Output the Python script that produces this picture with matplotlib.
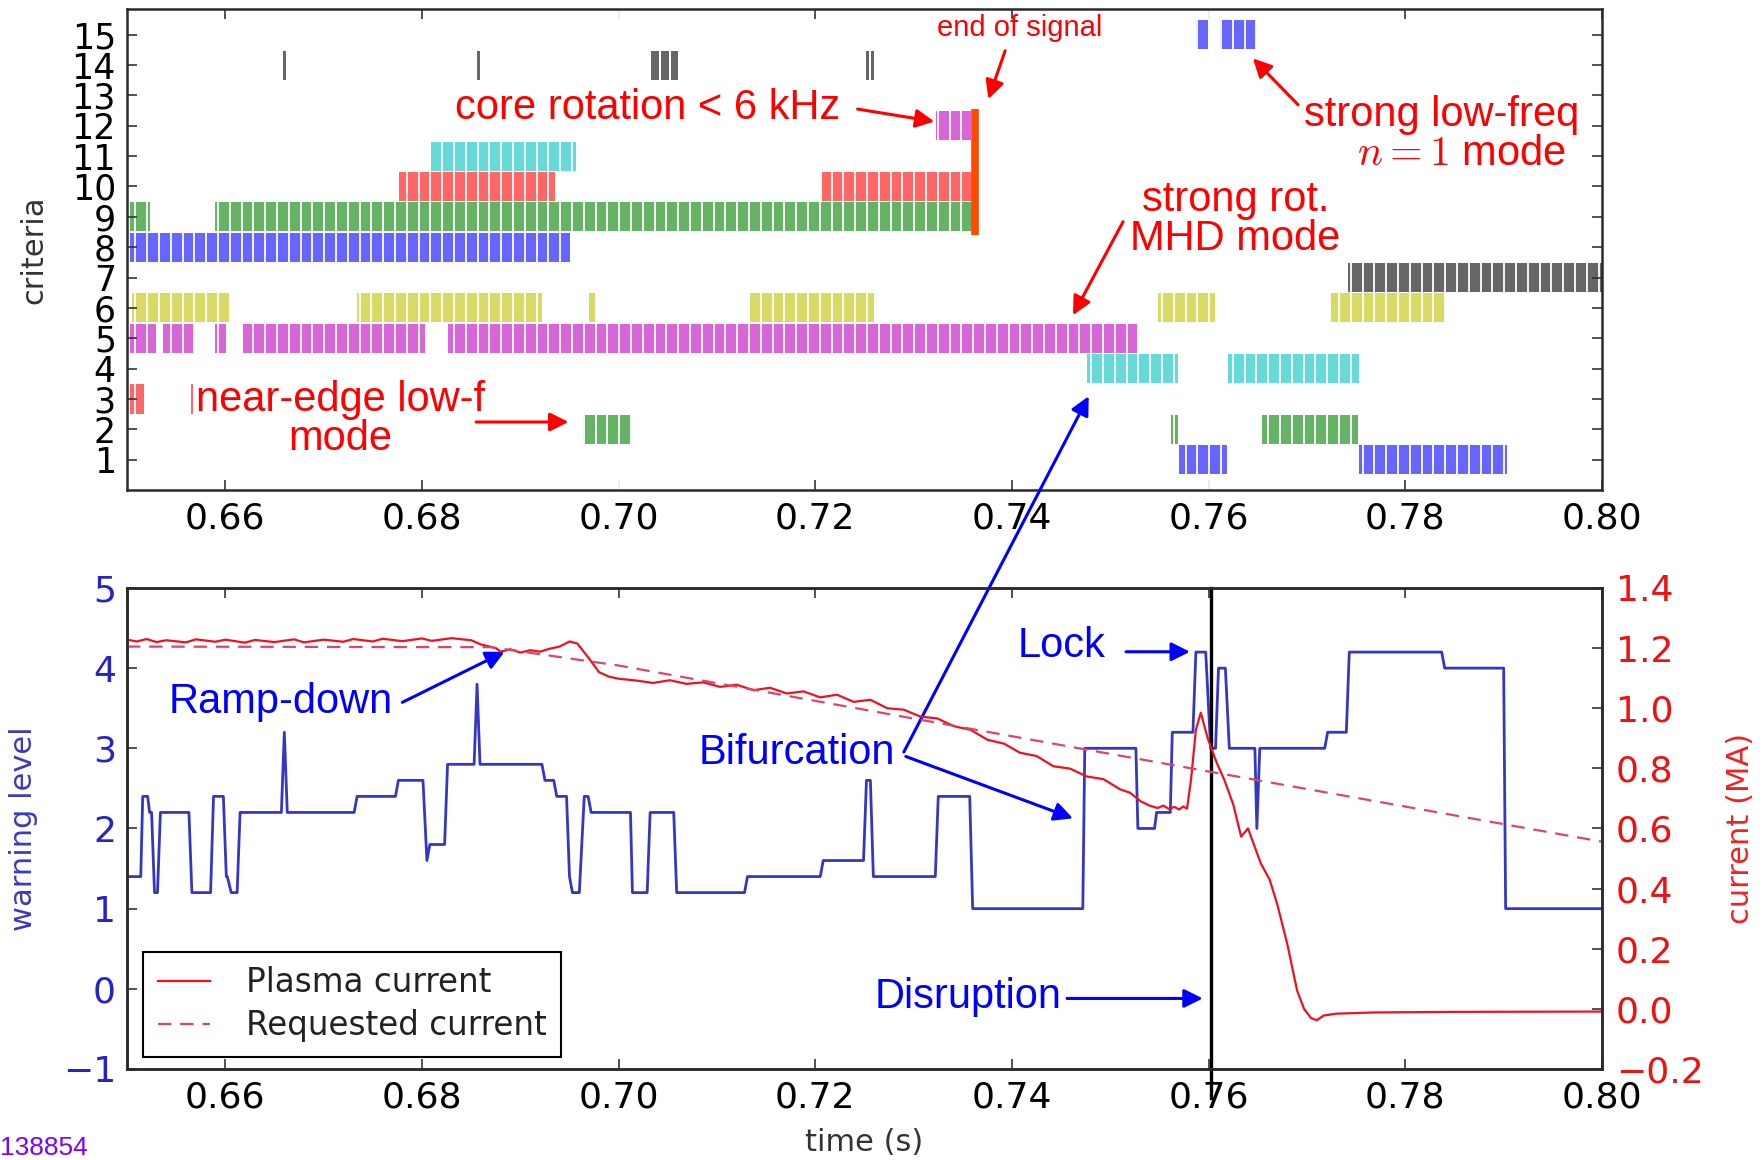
import matplotlib
matplotlib.use("Agg")
import matplotlib.pyplot as plt
from matplotlib.ticker import MultipleLocator

plt.rcParams["font.family"] = ["DejaVu Sans"]

# --- top panel: active criteria, (start, end) in s ---
crit1 = [(0.7570, 0.7619), (0.7753, 0.7903)]
crit2 = [(0.6964, 0.7014), (0.7562, 0.7569), (0.7654, 0.7752)]
crit3 = [(0.6503, 0.6517), (0.6565, 0.6567)]
crit4 = [(0.7476, 0.7569), (0.7620, 0.7753)]
crit5 = [(0.6503, 0.6529), (0.6537, 0.6568), (0.6589, 0.6601),
         (0.6618, 0.6803), (0.6826, 0.7527)]
crit6 = [(0.6505, 0.6606), (0.6734, 0.6922), (0.6970, 0.6976),
         (0.7133, 0.7260), (0.7548, 0.7606), (0.7724, 0.7840)]
crit7 = [(0.7742, 0.8000)]
crit8 = [(0.6503, 0.6951)]
crit9 = [(0.6503, 0.6523), (0.6589, 0.7360)]
crit10 = [(0.6777, 0.6935), (0.7207, 0.7359)]
crit11 = [(0.6809, 0.6957)]
crit12 = [(0.7323, 0.7358)]
crit13 = []
crit14 = [(0.6659, 0.6662), (0.6856, 0.6859), (0.7033, 0.7041), (0.7043, 0.7051),
          (0.7053, 0.7060), (0.7252, 0.7255), (0.7257, 0.7260)]
crit15 = [(0.7587, 0.7599), (0.7612, 0.7648)]
criteria = [crit1, crit2, crit3, crit4, crit5, crit6, crit7, crit8,
            crit9, crit10, crit11, crit12, crit13, crit14, crit15]
# classic b, g, r, c, m, y, k at alpha 0.6 on white
row_colors = ["#6666ff", "#66b366", "#ff6666", "#66d9d9", "#d966d9", "#d9d966", "#666666"]
signal_end = 0.7362

# --- bottom panel ---
wl_t = [0.6500, 0.6514, 0.6516, 0.6521, 0.6523, 0.6525, 0.6528, 0.6531, 0.6534, 0.6563,
        0.6566, 0.6585, 0.6588, 0.6598, 0.6601, 0.6602, 0.6606, 0.6612, 0.6615, 0.6657,
        0.6660, 0.6663, 0.6731, 0.6734, 0.6773, 0.6776, 0.6801, 0.6805, 0.6808, 0.6823,
        0.6826, 0.6853, 0.6856, 0.6859, 0.6922, 0.6925, 0.6934, 0.6937, 0.6947, 0.6950,
        0.6953, 0.6960, 0.6965, 0.6969, 0.6972, 0.7012, 0.7014, 0.7029, 0.7032, 0.7056,
        0.7059, 0.7128, 0.7131, 0.7205, 0.7208, 0.7249, 0.7252, 0.7256, 0.7259, 0.7322,
        0.7325, 0.7357, 0.7360, 0.7472, 0.7474, 0.7526, 0.7528, 0.7545, 0.7547, 0.7561,
        0.7563, 0.7584, 0.7587, 0.7597, 0.7602, 0.7607, 0.7610, 0.7617, 0.7621, 0.7647,
        0.7649, 0.7652, 0.7718, 0.7721, 0.7740, 0.7743, 0.7837, 0.7840, 0.7900, 0.7902,
        0.8000]
wl_v = [1.4, 1.4, 2.4, 2.4, 2.2, 2.2, 1.2, 1.2, 2.2, 2.2,
        1.2, 1.2, 2.4, 2.4, 1.4, 1.4, 1.2, 1.2, 2.2, 2.2,
        3.2, 2.2, 2.2, 2.4, 2.4, 2.6, 2.6, 1.6, 1.8, 1.8,
        2.8, 2.8, 3.8, 2.8, 2.8, 2.6, 2.6, 2.4, 2.4, 1.4,
        1.2, 1.2, 2.4, 2.4, 2.2, 2.2, 1.2, 1.2, 2.2, 2.2,
        1.2, 1.2, 1.4, 1.4, 1.6, 1.6, 2.6, 2.6, 1.4, 1.4,
        2.4, 2.4, 1.0, 1.0, 3.0, 3.0, 2.0, 2.0, 2.2, 2.2,
        3.2, 3.2, 4.2, 4.2, 3.0, 3.0, 4.0, 4.0, 3.0, 3.0,
        2.0, 3.0, 3.0, 3.2, 3.2, 4.2, 4.2, 4.0, 4.0, 1.0,
        1.0]

ip_t = [0.650, 0.651, 0.652, 0.653, 0.654, 0.656, 0.657, 0.659, 0.660, 0.662,
        0.663, 0.665, 0.667, 0.668, 0.670, 0.672, 0.673, 0.675, 0.676, 0.678,
        0.680, 0.681, 0.683, 0.685, 0.686, 0.6875, 0.688, 0.689, 0.690, 0.691,
        0.692, 0.693, 0.694, 0.695, 0.6958, 0.697, 0.698, 0.699, 0.700, 0.7018,
        0.7035, 0.7052, 0.7069, 0.7086, 0.7103, 0.7120, 0.7137, 0.7154, 0.7171, 0.7188,
        0.7205, 0.7222, 0.7239, 0.7256, 0.7273, 0.7290, 0.7307, 0.7324, 0.7341, 0.7358,
        0.7375, 0.7392, 0.7408, 0.7425, 0.7442, 0.7459, 0.7476, 0.7493, 0.7510, 0.7520,
        0.7531, 0.7540, 0.7548, 0.7554, 0.7560, 0.7565, 0.7570, 0.7574, 0.7578, 0.7582,
        0.7587, 0.7592, 0.7599, 0.7608, 0.7616, 0.7625, 0.7633, 0.7640, 0.7653, 0.7662,
        0.7670, 0.7680, 0.7690, 0.7697, 0.7704, 0.7710, 0.7717, 0.7730, 0.7768, 0.7850,
        0.8000]
ip_v = [1.228, 1.222, 1.230, 1.220, 1.226, 1.219, 1.229, 1.221, 1.228, 1.218,
        1.227, 1.220, 1.229, 1.219, 1.228, 1.221, 1.230, 1.222, 1.231, 1.223,
        1.232, 1.224, 1.233, 1.226, 1.212, 1.200, 1.188, 1.196, 1.185, 1.193,
        1.188, 1.198, 1.205, 1.222, 1.215, 1.165, 1.120, 1.105, 1.098, 1.092,
        1.084, 1.093, 1.081, 1.086, 1.071, 1.078, 1.060, 1.068, 1.049, 1.056,
        1.036, 1.045, 1.021, 1.028, 1.000, 0.995, 0.972, 0.966, 0.940, 0.928,
        0.895, 0.882, 0.852, 0.841, 0.807, 0.799, 0.773, 0.764, 0.730, 0.719,
        0.690, 0.676, 0.668, 0.676, 0.664, 0.672, 0.663, 0.673, 0.666, 0.761,
        0.928, 0.985, 0.900, 0.820, 0.761, 0.680, 0.573, 0.600, 0.484, 0.430,
        0.345, 0.215, 0.060, 0.000, -0.030, -0.038, -0.022, -0.016, -0.012, -0.010,
        -0.009]

req_t = [0.650, 0.687, 0.700, 0.750, 0.800]
req_v = [1.205, 1.203, 1.142, 0.848, 0.556]

disruption_t = 0.7602
time_ticks = [0.66, 0.68, 0.70, 0.72, 0.74, 0.76, 0.78, 0.80]

ANNOT_FONT = "Liberation Sans"
RED = "#ff0000"
BLUE = "#0000ff"


def style_axes(ax):
    for sp in ax.spines.values():
        sp.set_linewidth(1.8)
        sp.set_color("#2a2a2a")
        sp.set_zorder(5)
    ax.tick_params(direction="in", length=7, width=1.2, labelsize=26, pad=8,
                   top=True, color="#333333")


def note(ax, x, y, s, color, size=30, **kw):
    ax.text(x, y, s, color=color, fontsize=size, family=ANNOT_FONT,
            ha="center", va="center", zorder=6, **kw)


def arrow(ax, start, end, color, **kw):
    ax.annotate("", xy=end, xytext=start,
                arrowprops=dict(arrowstyle="-|>", color=color, lw=2.2,
                                mutation_scale=28, shrinkA=0, shrinkB=0),
                annotation_clip=False, zorder=6, **kw)


fig = plt.figure(figsize=(17.65, 11.6), dpi=100)
ax_top = fig.add_axes([0.07195, 0.5776, 0.8357, 0.4147])
ax_bot = fig.add_axes([0.07195, 0.07845, 0.8357, 0.4147])

# ---------------- top panel ----------------
for i, row in enumerate(criteria):
    level = i + 1
    bars = [(a, b - a) for a, b in row]
    if not bars:
        continue
    ax_top.broken_barh(bars, (level - 0.48, 0.96),
                       facecolor=row_colors[i % 7], edgecolor="none",
                       zorder=2.7 if level == 14 else 1)

ax_top.plot([signal_end, signal_end], [8.4, 12.55], color="#ff4a00", lw=5.5,
            solid_capstyle="butt", zorder=4)

ax_top.set_xlim(0.65, 0.80)
ax_top.set_ylim(0, 15.85)
ax_top.set_xticks(time_ticks)
ax_top.set_yticks(range(1, 16))
# white separators between sample bins
ax_top.xaxis.set_minor_locator(MultipleLocator(0.0012, offset=0.00045))
ax_top.grid(which="minor", axis="x", color="white", lw=1.3)
ax_top.set_axisbelow(False)
style_axes(ax_top)
ax_top.tick_params(which="minor", length=0)
ax_top.tick_params(right=True)
ax_top.tick_params(axis="y", labelsize=25)
ax_top.set_ylabel("criteria", fontsize=22, color="#333333")
ax_top.yaxis.set_label_coords(-0.053, 0.5)

note(ax_top, 0.7408, 15.22, "end of signal", RED, size=21)
arrow(ax_top, (0.7393, 14.47), (0.7376, 12.88), RED)
note(ax_top, 0.7029, 12.58, "core rotation < 6 kHz", RED)
arrow(ax_top, (0.7243, 12.55), (0.7321, 12.14), RED)
note(ax_top, 0.7837, 12.36, "strong low-freq", RED)
note(ax_top, 0.7857, 11.06, "$n = 1$ mode", RED, math_fontfamily="cm")
arrow(ax_top, (0.7691, 12.69), (0.7645, 14.22), RED)
note(ax_top, 0.7627, 9.54, "strong rot.", RED)
note(ax_top, 0.7627, 8.28, "MHD mode", RED)
arrow(ax_top, (0.7513, 8.84), (0.7462, 5.76), RED)
note(ax_top, 0.6717, 2.98, "near-edge low-f", RED)
note(ax_top, 0.6717, 1.68, "mode", RED)
arrow(ax_top, (0.6855, 2.24), (0.6949, 2.24), RED)

# ---------------- bottom panel ----------------
ax_cur = ax_bot.twinx()
ax_bot.plot(wl_t, wl_v, color="#3636c4", lw=2)
ax_cur.plot(ip_t, ip_v, color="#f01020", lw=1.6, label="Plasma current")
ax_cur.plot(req_t, req_v, color="#dd4466", lw=1.6, dashes=(6, 4),
            label="Requested current")

ax_bot.set_xlim(0.65, 0.80)
ax_bot.set_ylim(-1, 5)
ax_cur.set_ylim(-0.2, 1.4)
ax_bot.set_xticks(time_ticks)
ax_bot.set_yticks(range(-1, 6))
ax_cur.yaxis.set_major_locator(MultipleLocator(0.2))
style_axes(ax_bot)
style_axes(ax_cur)
ax_bot.tick_params(axis="y", labelcolor="#2424c8", right=False)
ax_cur.tick_params(axis="y", labelcolor="#ee1111", pad=10)
ax_bot.set_ylabel("warning level", fontsize=22, color="#3a3ac0")
ax_bot.yaxis.set_label_coords(-0.060, 0.5)
ax_cur.set_ylabel("current (MA)", fontsize=22, color="#ee2222")
ax_cur.yaxis.set_label_coords(1.084, 0.5)
ax_bot.set_xlabel("time (s)", fontsize=22, color="#333333")
ax_bot.xaxis.set_label_coords(0.5, -0.123)

ax_bot.plot([disruption_t, disruption_t], [1.0, -0.06], color="black", lw=2.4,
            transform=ax_bot.get_xaxis_transform(), clip_on=False, zorder=5)

leg = ax_cur.legend(loc="lower left", bbox_to_anchor=(0.011, 0.025), borderaxespad=0,
                    fontsize=23.5, handlelength=1.6, handletextpad=1.1, borderpad=0.45,
                    labelspacing=0.3, fancybox=False, framealpha=1, edgecolor="black")
leg.get_frame().set_linewidth(1.5)
for txt in leg.get_texts():
    txt.set_color("#222222")

note(ax_bot, 0.6656, 3.573, "Ramp-down", BLUE)
arrow(ax_bot, (0.6780, 3.573), (0.6884, 4.204), BLUE)
note(ax_bot, 0.7181, 2.94, "Bifurcation", BLUE)
arrow(ax_bot, (0.7290, 2.954), (0.7478, 3.09), BLUE,
      xycoords=ax_top.transData, textcoords=ax_bot.transData)
arrow(ax_bot, (0.7292, 2.898), (0.7462, 2.126), BLUE)
note(ax_bot, 0.7450, 4.274, "Lock", BLUE)
arrow(ax_bot, (0.7516, 4.204), (0.7581, 4.204), BLUE)
note(ax_bot, 0.7355, -0.107, "Disruption", BLUE)
arrow(ax_bot, (0.7456, -0.12), (0.7594, -0.12), BLUE)

fig.text(0.0, 0.0105, "138854", color="#7f00ff", fontsize=19, family=ANNOT_FONT,
         ha="left", va="center")

fig.savefig("out.png", dpi=100, facecolor="white")
